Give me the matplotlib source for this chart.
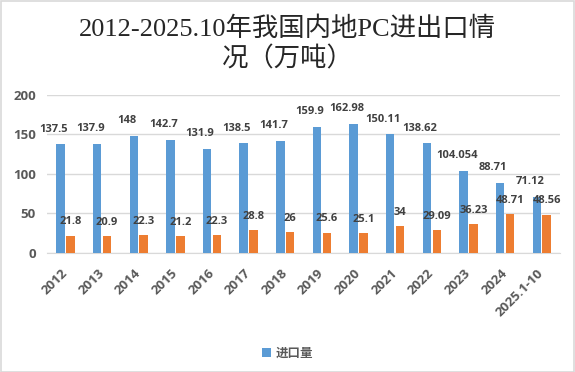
import numpy as np
import matplotlib
matplotlib.use("Agg")
import matplotlib.pyplot as plt

plt.rcParams['font.family'] = ['Open Sans', 'Noto Sans CJK SC', 'DejaVu Sans']

years = ['2012', '2013', '2014', '2015', '2016', '2017', '2018', '2019',
         '2020', '2021', '2022', '2023', '2024', '2025.1-10']
imports = [137.5, 137.9, 148, 142.7, 131.9, 138.5, 141.7, 159.9,
           162.98, 150.11, 138.62, 104.054, 88.71, 71.12]
exports = [21.8, 20.9, 22.3, 21.2, 22.3, 28.8, 26, 25.6,
           25.1, 34, 29.09, 36.23, 48.71, 48.56]
import_labels = ['137.5', '137.9', '148', '142.7', '131.9', '138.5', '141.7', '159.9',
                 '162.98', '150.11', '138.62', '104.054', '88.71', '71.12']
export_labels = ['21.8', '20.9', '22.3', '21.2', '22.3', '28.8', '26', '25.6',
                 '25.1', '34', '29.09', '36.23', '48.71', '48.56']

blue = '#5B9BD5'
orange = '#ED7D31'
grey = '#595959'

fig = plt.figure(figsize=(5.75, 3.72), dpi=100)
ax = fig.add_axes([0.082, 0.32, 0.892, 0.425])

x = np.arange(len(years))
w = 0.23
ax.bar(x - 0.135, imports, w, color=blue, label='进口量', zorder=3)
ax.bar(x + 0.135, exports, w, color=orange, zorder=3)

# data labels
for i in range(len(years)):
    ax.annotate(import_labels[i], (x[i] - 0.135, imports[i]), xytext=(-5, 7),
                textcoords='offset points', ha='center', va='bottom',
                fontsize=8, fontweight='bold', color='#404040')
    ax.annotate(export_labels[i], (x[i] + 0.135, exports[i]), xytext=(0, 6),
                textcoords='offset points', ha='center', va='bottom',
                fontsize=8, fontweight='bold', color='#404040')

ax.set_xlim(-0.5, len(years) - 0.5)
ax.set_ylim(0, 200)
ax.set_yticks([0, 50, 100, 150, 200])
ax.yaxis.grid(True, color='#d9d9d9', linewidth=1, zorder=0)
for s in ['top', 'right', 'left']:
    ax.spines[s].set_visible(False)
ax.spines['bottom'].set_color('#d9d9d9')
ax.tick_params(axis='both', length=0, colors=grey, labelsize=9.5)
ax.tick_params(axis='y', pad=8)
ax.set_xticks(x)
ax.set_xticklabels(years, rotation=45, ha='right', va='center',
                   rotation_mode='anchor', fontweight='bold')
ax.tick_params(axis='x', pad=13)
for t in ax.get_yticklabels():
    t.set_fontweight('bold')

fig.text(0.5, 0.955, '2012-2025.10年我国内地PC进出口情\n况（万吨）',
         ha='center', va='top', fontsize=19, color='#262626',
         family=['Liberation Serif', 'Noto Sans CJK SC'], linespacing=1.25)

leg = fig.legend(loc='center', bbox_to_anchor=(0.5, 0.05), frameon=False,
                 prop={'weight': 'bold', 'size': 9}, handlelength=0.7,
                 handleheight=0.7, handletextpad=0.4)
for t in leg.get_texts():
    t.set_color(grey)

fig.patches.append(plt.Rectangle((0.001, 0.001), 0.997, 0.996, transform=fig.transFigure,
                                 fill=False, edgecolor='#d9d9d9', linewidth=1.2))

fig.savefig('out.png', dpi=100)
